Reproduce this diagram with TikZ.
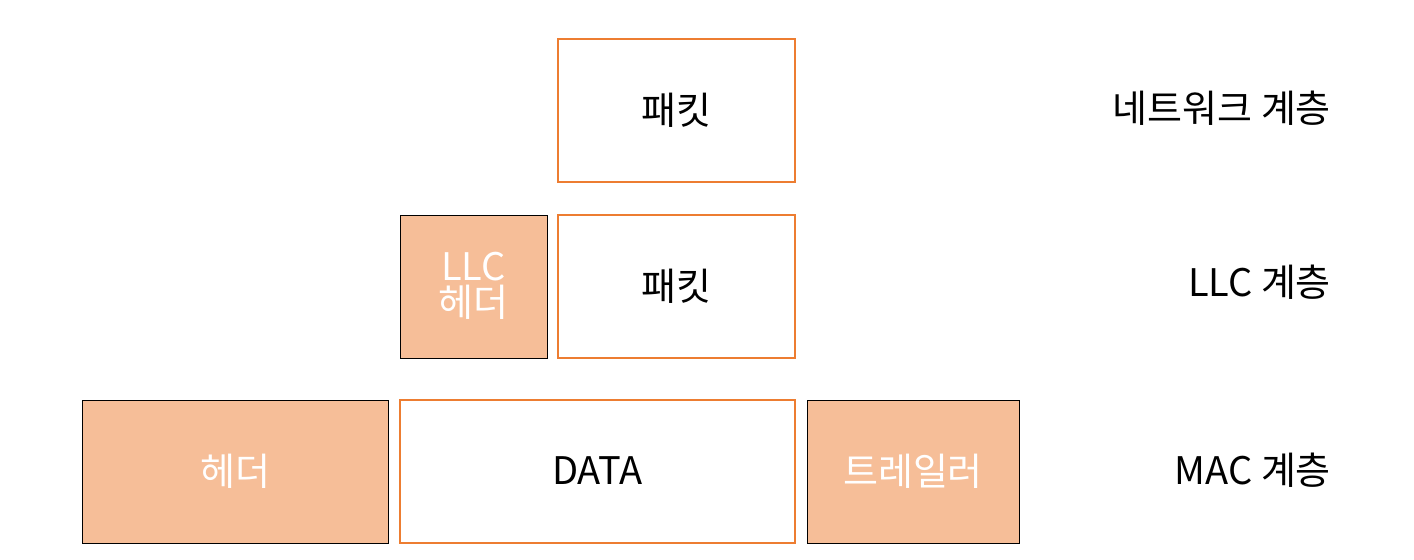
\documentclass[tikz,border=0pt]{standalone}
\usepackage{fontspec}
\setmainfont{Noto Sans CJK KR}
\definecolor{ob}{HTML}{ED7D31}
\definecolor{of}{HTML}{F6BE98}
\begin{document}
\begin{tikzpicture}[x=0.5pt,y=-0.5pt,
  wbox/.style={draw=ob,line width=1pt,fill=white},
  fbox/.style={fill=of},
  txt/.style={font=\fontsize{19pt}{22pt}\selectfont,align=center},
  lab/.style={font=\fontsize{19pt}{22pt}\selectfont,anchor=east}]
\useasboundingbox (0,0) rectangle (1414,560);
\draw[wbox] (558,39) rectangle (795,182);
\node[txt] (p1) at (676.5,110) {패킷};
\draw[fbox] (400,215) rectangle (547,358);
\node[txt,text=white] (llc) at (473.5,286) {LLC\\[-4pt]헤더};
\draw[wbox] (558,215) rectangle (795,358);
\node[txt] (p2) at (676.5,286) {패킷};
\draw[fbox] (82,400) rectangle (388,543);
\node[txt,text=white] (h) at (235,471) {헤더};
\draw[wbox] (400,400) rectangle (795,543);
\node[txt] (d) at (597.5,471) {DATA};
\draw[fbox] (807,400) rectangle (1019,543);
\node[txt,text=white] (t) at (913,471) {트레일러};
\node[lab] (l1) at (1338,108) {네트워크 계층};
\node[lab] (l2) at (1338,282) {LLC 계층};
\node[lab] (l3) at (1338,470) {MAC 계층};
\end{tikzpicture}
\end{document}
